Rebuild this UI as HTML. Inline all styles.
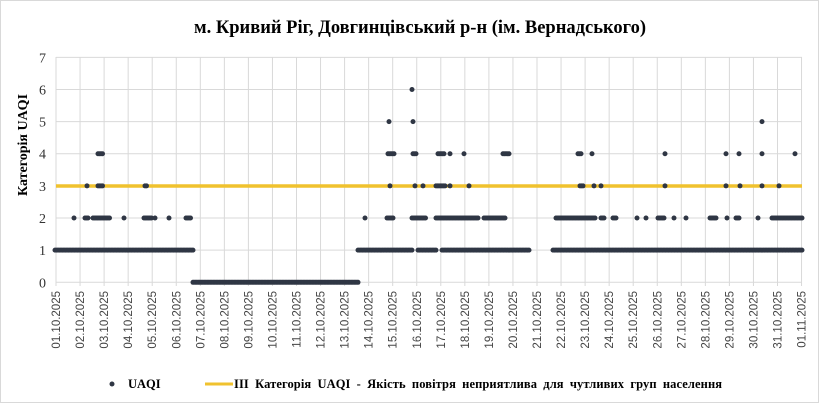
<!DOCTYPE html>
<html><head><meta charset="utf-8"><style>
html,body{margin:0;padding:0;background:#fff}
svg{display:block}
</style></head><body>
<svg id="s" width="819" height="406" xmlns="http://www.w3.org/2000/svg">
<rect x="0.5" y="0.5" width="818" height="402" fill="#fff" stroke="#d9d9d9"/>
<text x="420" y="33" text-anchor="middle" font-family="Liberation Serif, serif" font-weight="bold" font-size="18.5" fill="#000">м. Кривий Ріг, Довгинцівський р-н (ім. Вернадського)</text>
<text transform="translate(27,145) rotate(-90)" text-anchor="middle" font-family="Liberation Serif, serif" font-weight="bold" font-size="14" fill="#000">Категорія UAQI</text>
<g id="grid"></g>
<g id="ylab" font-family="Liberation Serif, serif" font-size="14" fill="#333" text-anchor="end"></g>
<g id="xlab" font-family="Liberation Sans, sans-serif" font-size="11.5" fill="#444"></g>
<line x1="56" y1="186" x2="802" y2="186" stroke="#f0c22e" stroke-width="3.5"/>
<g id="pts" fill="#2f3644"></g>
<circle cx="112" cy="384" r="2.5" fill="#2f3644"/>
<text x="128" y="388" font-family="Liberation Serif, serif" font-weight="bold" font-size="12.5" fill="#000">UAQI</text>
<line x1="205" y1="384" x2="233" y2="384" stroke="#f0c22e" stroke-width="3"/>
<text x="234" y="388" font-family="Liberation Serif, serif" font-weight="bold" font-size="12.5" fill="#000" word-spacing="3" textLength="488" lengthAdjust="spacing">ІІІ Категорія  UAQI  - Якість повітря неприятлива  для чутливих  груп населення</text>
</svg>
<script>
var NS="http://www.w3.org/2000/svg";
function el(p,t,a,txt){var e=document.createElementNS(NS,t);for(var k in a)e.setAttribute(k,a[k]);if(txt)e.textContent=txt;p.appendChild(e);return e;}
var X0=56,DX=24.05,Y0=282.3,DY=32.14;
var g=document.getElementById('grid'),yl=document.getElementById('ylab'),xl=document.getElementById('xlab'),pts=document.getElementById('pts');
for(var i=0;i<=7;i++){var y=Y0-i*DY;el(g,'line',{x1:X0,y1:y,x2:802,y2:y,stroke:'#d9d9d9','stroke-width':1});el(yl,'text',{x:46,y:y+5},String(i));}
for(var d=0;d<=31;d++){var x=X0+d*DX;el(g,'line',{x1:x,y1:57,x2:x,y2:286,stroke:'#d9d9d9','stroke-width':1});
var lab=d<31?((d+1<10?'0':'')+(d+1)+'.10.2025'):'01.11.2025';
el(xl,'text',{transform:'translate('+(x+4)+',291) rotate(-90)','text-anchor':'end'},lab);}
function seg(y,a,b){for(var x=a;x<=b;x+=1.5)el(pts,'circle',{cx:x,cy:Y0-y*DY,r:2.5});}
function dots(y,l){l.forEach(function(v){if(Array.isArray(v))seg(y,v[0],v[1]);else el(pts,'circle',{cx:v,cy:Y0-y*DY,r:2.5});});}
dots(1,[[55,193],[358,413],[418,437],[442,529],[553,803]]);
dots(0,[[193,358]]);
dots(2,[74,[85,89],[93,110],124,[144,152],155,169,[186,191],365,[387,394],[412,426],[436,479],[484,505],[556,595],[601,604],[613,617],637,646,[658,664],674,686,[710,716],727,[736,740],758,[772,803]]);
dots(3,[87,[98,103],[145,147],390,415,423,[436,446],450,469,[580,583],594,601,665,726,740,762,779]);
dots(4,[[98,103],[388,394],[413,417],[438,444],450,464,[503,509],[578,582],592,665,726,739,762,795]);
dots(5,[389,413,762]);
dots(6,[412]);
</script>
</body></html>
